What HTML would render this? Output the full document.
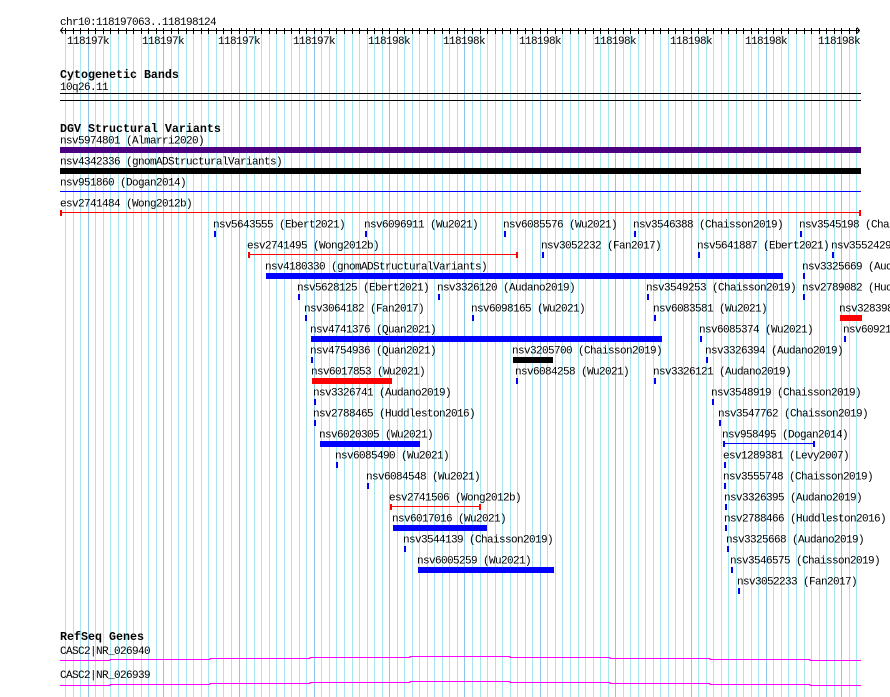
<!DOCTYPE html>
<html><head><meta charset="utf-8"><style>
html,body{margin:0;padding:0;background:#fff;}
svg{display:block;}
text{font-family:"Liberation Mono","DejaVu Sans Mono",monospace;font-size:11px;letter-spacing:-0.6px;fill:#000;}
text.b{font-weight:bold;font-size:11.67px;letter-spacing:0;}
</style></head><body>
<svg width="890" height="697" viewBox="0 0 890 697" xmlns="http://www.w3.org/2000/svg">
<rect x="0" y="0" width="890" height="697" fill="#fff"/>
<path fill="none" stroke="#a6e6ee" stroke-width="1" d="M65.5,28v669M73.5,28v669M80.5,28v669M95.5,28v669M103.5,28v669M110.5,28v669M118.5,28v669M126.5,28v669M133.5,28v669M141.5,28v669M148.5,28v669M156.5,28v669M171.5,28v669M178.5,28v669M186.5,28v669M193.5,28v669M201.5,28v669M208.5,28v669M216.5,28v669M223.5,28v669M231.5,28v669M246.5,28v669M254.5,28v669M261.5,28v669M269.5,28v669M276.5,28v669M284.5,28v669M291.5,28v669M299.5,28v669M306.5,28v669M321.5,28v669M329.5,28v669M336.5,28v669M344.5,28v669M352.5,28v669M359.5,28v669M367.5,28v669M374.5,28v669M382.5,28v669M397.5,28v669M404.5,28v669M412.5,28v669M419.5,28v669M427.5,28v669M434.5,28v669M442.5,28v669M449.5,28v669M457.5,28v669M472.5,28v669M480.5,28v669M487.5,28v669M495.5,28v669M502.5,28v669M510.5,28v669M517.5,28v669M525.5,28v669M532.5,28v669M547.5,28v669M555.5,28v669M562.5,28v669M570.5,28v669M578.5,28v669M585.5,28v669M593.5,28v669M600.5,28v669M608.5,28v669M623.5,28v669M630.5,28v669M638.5,28v669M645.5,28v669M653.5,28v669M660.5,28v669M668.5,28v669M675.5,28v669M683.5,28v669M698.5,28v669M706.5,28v669M713.5,28v669M721.5,28v669M728.5,28v669M736.5,28v669M743.5,28v669M751.5,28v669M758.5,28v669M773.5,28v669M781.5,28v669M788.5,28v669M796.5,28v669M804.5,28v669M811.5,28v669M819.5,28v669M826.5,28v669M834.5,28v669M849.5,28v669M856.5,28v669"/>
<path fill="none" stroke="#8cc6ea" stroke-width="1" d="M88.5,28v669M163.5,28v669M239.5,28v669M314.5,28v669M389.5,28v669M464.5,28v669M540.5,28v669M615.5,28v669M691.5,28v669M766.5,28v669M841.5,28v669"/>
<!-- ruler -->
<path fill="none" stroke="#000" stroke-width="1" d="M60,30.5H860M63,27.5L60.5,30.5L63,33.5M857,27.5L859.5,30.5L857,33.5"/>
<path fill="none" stroke="#000" stroke-width="1" d="M65.5,28v6M73.5,28v6M80.5,28v6M88.5,28v6M95.5,28v6M103.5,28v6M110.5,28v6M118.5,28v6M126.5,28v6M133.5,28v6M141.5,28v6M148.5,28v6M156.5,28v6M163.5,28v6M171.5,28v6M178.5,28v6M186.5,28v6M193.5,28v6M201.5,28v6M208.5,28v6M216.5,28v6M223.5,28v6M231.5,28v6M239.5,28v6M246.5,28v6M254.5,28v6M261.5,28v6M269.5,28v6M276.5,28v6M284.5,28v6M291.5,28v6M299.5,28v6M306.5,28v6M314.5,28v6M321.5,28v6M329.5,28v6M336.5,28v6M344.5,28v6M352.5,28v6M359.5,28v6M367.5,28v6M374.5,28v6M382.5,28v6M389.5,28v6M397.5,28v6M404.5,28v6M412.5,28v6M419.5,28v6M427.5,28v6M434.5,28v6M442.5,28v6M449.5,28v6M457.5,28v6M464.5,28v6M472.5,28v6M480.5,28v6M487.5,28v6M495.5,28v6M502.5,28v6M510.5,28v6M517.5,28v6M525.5,28v6M532.5,28v6M540.5,28v6M547.5,28v6M555.5,28v6M562.5,28v6M570.5,28v6M578.5,28v6M585.5,28v6M593.5,28v6M600.5,28v6M608.5,28v6M615.5,28v6M623.5,28v6M630.5,28v6M638.5,28v6M645.5,28v6M653.5,28v6M660.5,28v6M668.5,28v6M675.5,28v6M683.5,28v6M691.5,28v6M698.5,28v6M706.5,28v6M713.5,28v6M721.5,28v6M728.5,28v6M736.5,28v6M743.5,28v6M751.5,28v6M758.5,28v6M766.5,28v6M773.5,28v6M781.5,28v6M788.5,28v6M796.5,28v6M804.5,28v6M811.5,28v6M819.5,28v6M826.5,28v6M834.5,28v6M841.5,28v6M849.5,28v6M856.5,28v6"/>
<text x="60" y="25">chr10:118197063..118198124</text>
<g text-anchor="middle">
<text x="88" y="44">118197k</text>
<text x="163" y="44">118197k</text>
<text x="239" y="44">118197k</text>
<text x="314" y="44">118197k</text>
<text x="389" y="44">118198k</text>
<text x="464" y="44">118198k</text>
<text x="540" y="44">118198k</text>
<text x="615" y="44">118198k</text>
<text x="691" y="44">118198k</text>
<text x="766" y="44">118198k</text>
</g>
<text x="860" y="44" text-anchor="end">118198k</text>

<!-- cytogenetic -->
<text class="b" x="60" y="78">Cytogenetic Bands</text>
<text x="60" y="90">10q26.11</text>
<rect x="60" y="93" width="801" height="1" fill="#000"/>
<rect x="60" y="100" width="801" height="1" fill="#000"/>

<!-- DGV -->
<text class="b" x="60" y="132">DGV Structural Variants</text>

<g shape-rendering="crispEdges">
<rect x="60" y="147" width="801" height="6" fill="#4b0082"/>
<rect x="60" y="168" width="801" height="6" fill="#000"/>
<rect x="60" y="191" width="801" height="1" fill="#0000ff"/>
<g fill="#ff0000">
<rect x="60" y="212" width="801" height="1"/>
<rect x="60" y="210" width="2" height="6"/>
<rect x="859" y="210" width="2" height="6"/>
<rect x="248" y="254" width="270" height="1"/>
<rect x="248" y="252" width="2" height="6"/>
<rect x="516" y="252" width="2" height="6"/>
<rect x="840" y="315" width="22" height="6"/>
<rect x="312" y="378" width="80" height="6"/>
<rect x="390" y="506" width="91" height="1"/>
<rect x="390" y="504" width="2" height="6"/>
<rect x="479" y="504" width="2" height="6"/>
</g>
<rect x="513" y="357" width="40" height="6" fill="#000"/>
<g fill="#0000ff">
<rect x="214" y="231" width="2" height="6"/>
<rect x="365" y="231" width="2" height="6"/>
<rect x="504" y="231" width="2" height="6"/>
<rect x="634" y="231" width="2" height="6"/>
<rect x="800" y="231" width="2" height="6"/>
<rect x="542" y="252" width="2" height="6"/>
<rect x="698" y="252" width="2" height="6"/>
<rect x="832" y="252" width="2" height="6"/>
<rect x="266" y="273" width="517" height="6"/>
<rect x="803" y="273" width="2" height="6"/>
<rect x="298" y="294" width="2" height="6"/>
<rect x="438" y="294" width="2" height="6"/>
<rect x="647" y="294" width="2" height="6"/>
<rect x="803" y="294" width="2" height="6"/>
<rect x="305" y="315" width="2" height="6"/>
<rect x="472" y="315" width="2" height="6"/>
<rect x="654" y="315" width="2" height="6"/>
<rect x="311" y="336" width="351" height="6"/>
<rect x="700" y="336" width="2" height="6"/>
<rect x="844" y="336" width="2" height="6"/>
<rect x="311" y="357" width="2" height="6"/>
<rect x="706" y="357" width="2" height="6"/>
<rect x="516" y="378" width="2" height="6"/>
<rect x="654" y="378" width="2" height="6"/>
<rect x="314" y="399" width="2" height="6"/>
<rect x="712" y="399" width="2" height="6"/>
<rect x="314" y="420" width="2" height="6"/>
<rect x="719" y="420" width="2" height="6"/>
<rect x="320" y="441" width="100" height="6"/>
<rect x="723" y="443" width="92" height="1"/>
<rect x="723" y="441" width="2" height="6"/>
<rect x="813" y="441" width="2" height="6"/>
<rect x="336" y="462" width="2" height="6"/>
<rect x="724" y="462" width="2" height="6"/>
<rect x="367" y="483" width="2" height="6"/>
<rect x="724" y="483" width="2" height="6"/>
<rect x="725" y="504" width="2" height="6"/>
<rect x="393" y="525" width="94" height="6"/>
<rect x="725" y="525" width="2" height="6"/>
<rect x="404" y="546" width="2" height="6"/>
<rect x="727" y="546" width="2" height="6"/>
<rect x="418" y="567" width="136" height="6"/>
<rect x="731" y="567" width="2" height="6"/>
<rect x="738" y="588" width="2" height="6"/>
</g>
</g>

<text x="60" y="143.5">nsv5974801 (Almarri2020)</text>
<text x="60" y="164.5">nsv4342336 (gnomADStructuralVariants)</text>
<text x="60" y="185.5">nsv951860 (Dogan2014)</text>
<text x="60" y="206.5">esv2741484 (Wong2012b)</text>

<text x="213" y="227.5">nsv5643555 (Ebert2021)</text>
<text x="364" y="227.5">nsv6096911 (Wu2021)</text>
<text x="503" y="227.5">nsv6085576 (Wu2021)</text>
<text x="633" y="227.5">nsv3546388 (Chaisson2019)</text>
<text x="799" y="227.5">nsv3545198 (Chaisson2019)</text>

<text x="247" y="248.5">esv2741495 (Wong2012b)</text>
<text x="541" y="248.5">nsv3052232 (Fan2017)</text>
<text x="697" y="248.5">nsv5641887 (Ebert2021)</text>
<text x="831" y="248.5">nsv3552429 (Chaisson2019)</text>

<text x="265" y="269.5">nsv4180330 (gnomADStructuralVariants)</text>
<text x="802" y="269.5">nsv3325669 (Audano2019)</text>

<text x="297" y="290.5">nsv5628125 (Ebert2021)</text>
<text x="437" y="290.5">nsv3326120 (Audano2019)</text>
<text x="646" y="290.5">nsv3549253 (Chaisson2019)</text>
<text x="802" y="290.5">nsv2789082 (Huddleston2016)</text>

<text x="304" y="311.5">nsv3064182 (Fan2017)</text>
<text x="471" y="311.5">nsv6098165 (Wu2021)</text>
<text x="653" y="311.5">nsv6083581 (Wu2021)</text>
<text x="839" y="311.5">nsv3283980 (Collins2017)</text>

<text x="310" y="332.5">nsv4741376 (Quan2021)</text>
<text x="699" y="332.5">nsv6085374 (Wu2021)</text>
<text x="843" y="332.5">nsv6092105 (Wu2021)</text>

<text x="310" y="353.5">nsv4754936 (Quan2021)</text>
<text x="512" y="353.5">nsv3205700 (Chaisson2019)</text>
<text x="705" y="353.5">nsv3326394 (Audano2019)</text>

<text x="311" y="374.5">nsv6017853 (Wu2021)</text>
<text x="515" y="374.5">nsv6084258 (Wu2021)</text>
<text x="653" y="374.5">nsv3326121 (Audano2019)</text>

<text x="313" y="395.5">nsv3326741 (Audano2019)</text>
<text x="711" y="395.5">nsv3548919 (Chaisson2019)</text>

<text x="313" y="416.5">nsv2788465 (Huddleston2016)</text>
<text x="718" y="416.5">nsv3547762 (Chaisson2019)</text>

<text x="319" y="437.5">nsv6020305 (Wu2021)</text>
<text x="722" y="437.5">nsv958495 (Dogan2014)</text>

<text x="335" y="458.5">nsv6085490 (Wu2021)</text>
<text x="723" y="458.5">esv1289381 (Levy2007)</text>

<text x="366" y="479.5">nsv6084548 (Wu2021)</text>
<text x="723" y="479.5">nsv3555748 (Chaisson2019)</text>

<text x="389" y="500.5">esv2741506 (Wong2012b)</text>
<text x="724" y="500.5">nsv3326395 (Audano2019)</text>

<text x="392" y="521.5">nsv6017016 (Wu2021)</text>
<text x="724" y="521.5">nsv2788466 (Huddleston2016)</text>

<text x="403" y="542.5">nsv3544139 (Chaisson2019)</text>
<text x="726" y="542.5">nsv3325668 (Audano2019)</text>

<text x="417" y="563.5">nsv6005259 (Wu2021)</text>
<text x="730" y="563.5">nsv3546575 (Chaisson2019)</text>

<text x="737" y="584.5">nsv3052233 (Fan2017)</text>

<!-- RefSeq -->
<text class="b" x="60" y="640">RefSeq Genes</text>
<text x="60" y="654">CASC2|NR_026940</text>
<text x="60" y="678">CASC2|NR_026939</text>
<path fill="none" stroke="#ff00ff" stroke-width="1" shape-rendering="crispEdges" d="M60,660.5H110V659.5H210V658.5H310V657.5H410V656.5H510V657.5H610V658.5H710V659.5H810V660.5H861M60,685.5H110V684.5H210V683.5H310V682.5H410V681.5H510V682.5H610V683.5H710V684.5H810V685.5H861"/>
</svg>
</body></html>
